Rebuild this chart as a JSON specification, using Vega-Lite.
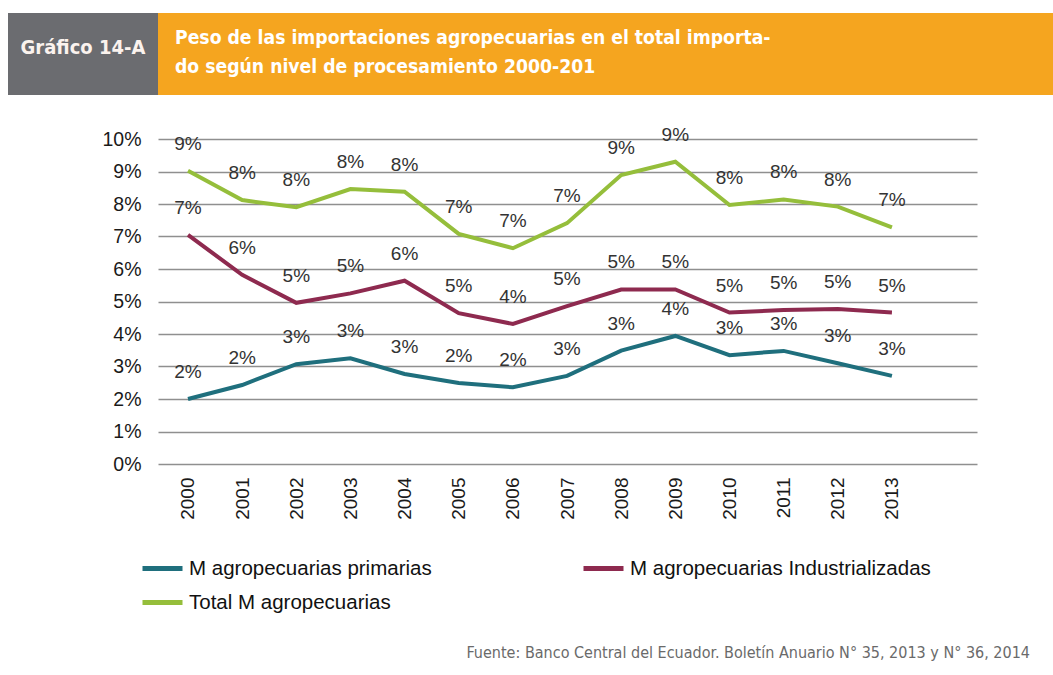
{
  "$schema": "https://vega.github.io/schema/vega-lite/v6.json",
  "padding": {"left": 8, "top": 13, "right": 0, "bottom": 0},
  "background": "white",
  "config": {"view": {"stroke": null}, "font": "Liberation Sans"},
  "title": {
    "text": "Fuente: Banco Central del Ecuador. Boletín Anuario N° 35, 2013 y N° 36, 2014",
    "orient": "bottom", "anchor": "end", "font": "DejaVu Sans Condensed, Liberation Sans",
    "fontSize": 16, "fontWeight": "normal", "color": "#6a6a6a", "dx": -23, "offset": 32
  },
  "columns": 2,
  "align": "none",
  "bounds": "flush",
  "spacing": {"row": 44, "column": 0},
  "concat": [
    {
      "width": 150, "height": 82,
      "view": {"fill": "#6B6C70"},
      "data": {"values": [{"t": "Gráfico 14-A"}]},
      "mark": {"type": "text", "color": "#FBF3EE", "font": "DejaVu Sans Condensed, Liberation Sans", "fontWeight": "bold", "fontSize": 20, "dy": -6},
      "encoding": {"text": {"field": "t"}}
    },
    {
      "width": 895, "height": 82,
      "view": {"fill": "#F5A51F"},
      "title": {
        "text": ["Peso de las importaciones agropecuarias en el total importa-", "do según nivel de procesamiento 2000-201"],
        "anchor": "start", "frame": "group", "dx": 17, "offset": -64,
        "font": "DejaVu Sans Condensed, Liberation Sans",
        "fontSize": 19.2, "fontWeight": "bold", "color": "white", "lineHeight": 29
      },
      "data": {"values": []},
      "mark": "text"
    },
    {
      "width": 150, "height": 10,
      "data": {"values": []},
      "mark": "text"
    },
    {
      "width": 819, "height": 325,
      "data": {"values": [
        {"year": 2000, "serie": "M agropecuarias primarias", "value": 0.0200},
        {"year": 2001, "serie": "M agropecuarias primarias", "value": 0.0243},
        {"year": 2002, "serie": "M agropecuarias primarias", "value": 0.0307},
        {"year": 2003, "serie": "M agropecuarias primarias", "value": 0.0325},
        {"year": 2004, "serie": "M agropecuarias primarias", "value": 0.0277},
        {"year": 2005, "serie": "M agropecuarias primarias", "value": 0.0249},
        {"year": 2006, "serie": "M agropecuarias primarias", "value": 0.0236},
        {"year": 2007, "serie": "M agropecuarias primarias", "value": 0.0271},
        {"year": 2008, "serie": "M agropecuarias primarias", "value": 0.0349},
        {"year": 2009, "serie": "M agropecuarias primarias", "value": 0.0394},
        {"year": 2010, "serie": "M agropecuarias primarias", "value": 0.0335},
        {"year": 2011, "serie": "M agropecuarias primarias", "value": 0.0348},
        {"year": 2012, "serie": "M agropecuarias primarias", "value": 0.0310},
        {"year": 2013, "serie": "M agropecuarias primarias", "value": 0.0271},
        {"year": 2000, "serie": "M agropecuarias Industrializadas", "value": 0.0705},
        {"year": 2001, "serie": "M agropecuarias Industrializadas", "value": 0.0582},
        {"year": 2002, "serie": "M agropecuarias Industrializadas", "value": 0.0496},
        {"year": 2003, "serie": "M agropecuarias Industrializadas", "value": 0.0525},
        {"year": 2004, "serie": "M agropecuarias Industrializadas", "value": 0.0564},
        {"year": 2005, "serie": "M agropecuarias Industrializadas", "value": 0.0464},
        {"year": 2006, "serie": "M agropecuarias Industrializadas", "value": 0.0431},
        {"year": 2007, "serie": "M agropecuarias Industrializadas", "value": 0.0486},
        {"year": 2008, "serie": "M agropecuarias Industrializadas", "value": 0.0537},
        {"year": 2009, "serie": "M agropecuarias Industrializadas", "value": 0.0537},
        {"year": 2010, "serie": "M agropecuarias Industrializadas", "value": 0.0466},
        {"year": 2011, "serie": "M agropecuarias Industrializadas", "value": 0.0474},
        {"year": 2012, "serie": "M agropecuarias Industrializadas", "value": 0.0477},
        {"year": 2013, "serie": "M agropecuarias Industrializadas", "value": 0.0466},
        {"year": 2000, "serie": "Total M agropecuarias", "value": 0.0902},
        {"year": 2001, "serie": "Total M agropecuarias", "value": 0.0812},
        {"year": 2002, "serie": "Total M agropecuarias", "value": 0.0790},
        {"year": 2003, "serie": "Total M agropecuarias", "value": 0.0846},
        {"year": 2004, "serie": "Total M agropecuarias", "value": 0.0838},
        {"year": 2005, "serie": "Total M agropecuarias", "value": 0.0708},
        {"year": 2006, "serie": "Total M agropecuarias", "value": 0.0664},
        {"year": 2007, "serie": "Total M agropecuarias", "value": 0.0741},
        {"year": 2008, "serie": "Total M agropecuarias", "value": 0.0889},
        {"year": 2009, "serie": "Total M agropecuarias", "value": 0.0930},
        {"year": 2010, "serie": "Total M agropecuarias", "value": 0.0797},
        {"year": 2011, "serie": "Total M agropecuarias", "value": 0.0814},
        {"year": 2012, "serie": "Total M agropecuarias", "value": 0.0792},
        {"year": 2013, "serie": "Total M agropecuarias", "value": 0.0728}
      ]},
      "encoding": {
        "x": {
          "field": "year", "type": "quantitative",
          "scale": {"domain": [1999.446, 2014.571], "nice": false, "zero": false},
          "axis": {
            "values": [2000, 2001, 2002, 2003, 2004, 2005, 2006, 2007, 2008, 2009, 2010, 2011, 2012, 2013],
            "format": "d", "labelAngle": -90, "labelPadding": 13, "labelFontSize": 19,
            "labelColor": "#1a1a1a", "grid": false, "ticks": false, "domain": false, "title": null, "labelFlush": false
          }
        },
        "y": {
          "field": "value", "type": "quantitative",
          "scale": {"domain": [0, 0.1], "nice": false},
          "axis": {
            "values": [0, 0.01, 0.02, 0.03, 0.04, 0.05, 0.06, 0.07, 0.08, 0.09, 0.1],
            "format": ".0%", "labelFontSize": 19.5, "labelColor": "#1a1a1a", "labelPadding": 17,
            "grid": true, "gridColor": "#8f8f8f", "gridWidth": 1.3, "ticks": false, "domain": false, "title": null
          }
        },
        "color": {
          "field": "serie", "type": "nominal",
          "scale": {
            "domain": ["M agropecuarias primarias", "M agropecuarias Industrializadas", "Total M agropecuarias"],
            "range": ["#1F6F7D", "#8E2A4F", "#95BE3B"]
          },
          "legend": {
            "orient": "none", "legendX": 132, "legendY": 533, "direction": "horizontal", "columns": 2, "columnPadding": 141,
            "rowPadding": 1, "symbolType": "stroke", "symbolSize": 1600, "symbolStrokeWidth": 5,
            "labelFontSize": 20.5, "labelColor": "#111111", "labelOffset": 4, "labelLimit": 400, "title": null
          }
        }
      },
      "layer": [
        {"mark": {"type": "line", "strokeWidth": 4}},
        {
          "mark": {"type": "text", "dy": -27, "fontSize": 19, "color": "#333333"},
          "encoding": {
            "text": {"field": "value", "type": "quantitative", "format": ".0%"},
            "color": {"value": "#333333"}
          }
        }
      ]
    }
  ]
}
